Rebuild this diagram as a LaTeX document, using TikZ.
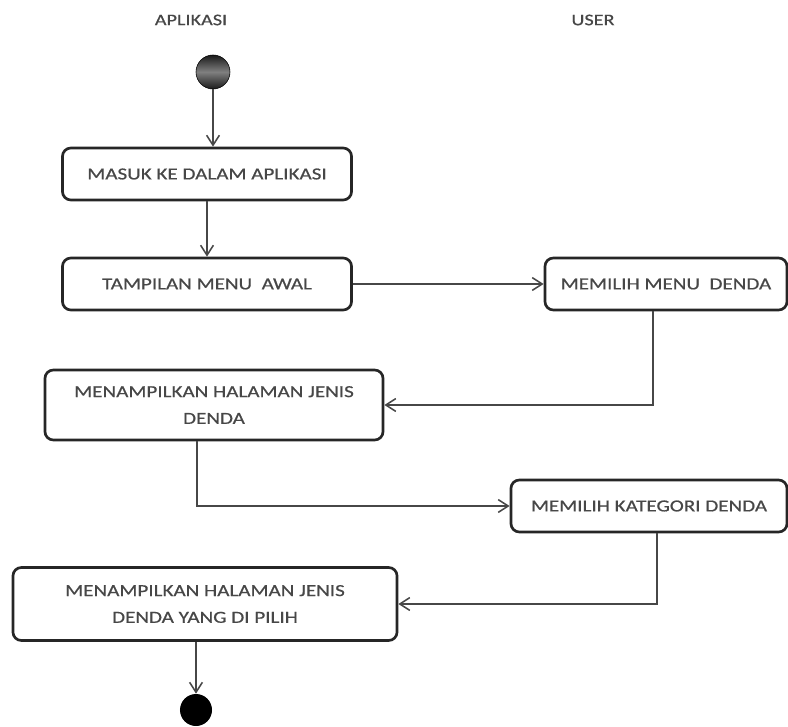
\documentclass[tikz,border=0pt]{standalone}
\usepackage{fontspec}
\setmainfont{Carlito}[FakeStretch=1.25,FakeBold=0.6]
\usetikzlibrary{arrows.meta,positioning}

\begin{document}
\begin{tikzpicture}[
  x=0.025cm,y=-0.025cm,
  >={Straight Barb[length=2.5mm,width=3.2mm]},
  font=\fontsize{12}{19}\selectfont,
  act/.style={draw=black!85,line width=1.9pt,rounded corners=6pt,fill=white,
    minimum height=1.3cm,align=center,text=black!72,inner sep=2pt},
  flow/.style={->,line width=1.1pt,draw=black!72},
  lab/.style={font=\fontsize{11.5}{15}\selectfont,text=black!72},
  initnode/.style={circle,draw=black,minimum size=0.85cm,inner sep=0pt,
    top color=black!90,bottom color=black!90,middle color=black!50},
  endnode/.style={circle,fill=black,minimum size=0.8cm,inner sep=0pt}]

  \useasboundingbox (0,0) rectangle (788,727);

  % swimlane titles
  \node[lab] (laneapp) at (191,20) {APLIKASI};
  \node[lab] (laneuser) at (593,20) {USER};

  % ===== left column: aplikasi =====
  \node[initnode] (start) at (213,72) {};
  \node[act,minimum width=7.225cm] (masuk) at (207,174) {MASUK KE DALAM APLIKASI};
  \node[act,minimum width=7.225cm] (menuawal) at (207,284) {TAMPILAN MENU \ AWAL};
  \node[act,minimum width=8.45cm,minimum height=1.75cm] (jenis) at (214,405)
    {MENAMPILKAN HALAMAN JENIS\\DENDA};
  \node[act,minimum width=9.6cm,minimum height=1.825cm] (dipilih) at (205,604)
    {MENAMPILKAN HALAMAN JENIS\\DENDA YANG DI PILIH};
  \node[endnode] (stop) at (196,710) {};

  % ===== right column: user =====
  \node[act,minimum width=6.05cm] (pilihmenu) at (666,284) {MEMILIH MENU \ DENDA};
  \node[act,minimum width=6.9cm] (kategori) at (649,506) {MEMILIH KATEGORI DENDA};

  % control flow
  \draw[flow] (start) -- (start |- masuk.north);
  \draw[flow] (masuk) -- (menuawal);
  \draw[flow] (menuawal.east) -- (pilihmenu.west);
  \draw[flow] ([xshift=-0.325cm]pilihmenu.south) |- (jenis.east);
  \draw[flow] ([xshift=-0.425cm]jenis.south) |- (kategori.west);
  \draw[flow] ([xshift=0.2cm]kategori.south) |- (dipilih.east);
  \draw[flow] (dipilih.south -| stop) -- (stop);
\end{tikzpicture}
\end{document}
